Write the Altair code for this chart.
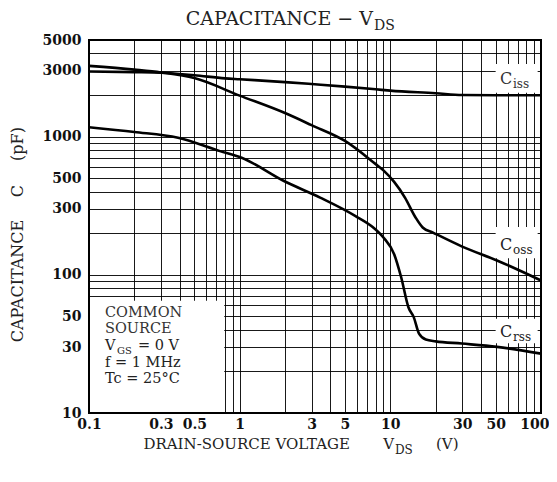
import altair as alt
import pandas as pd

# ---- data ----
ciss_v = [0.1, 0.2, 0.3, 0.5, 0.8, 1, 2, 3, 5, 8, 10, 20, 30, 50, 100]
ciss_c = [2960, 2930, 2900, 2780, 2640, 2600, 2480, 2400, 2300, 2200, 2150, 2060, 2000, 1990, 1990]

coss_v = [0.1, 0.2, 0.3, 0.5, 1, 2, 3, 5, 8, 9, 10.6, 12.5, 14.7, 16.4, 19.2, 30, 51, 100]
coss_c = [3250, 3050, 2910, 2650, 1980, 1480, 1210, 930, 632, 570, 470, 362, 260, 220, 202, 160, 127, 91]

crss_v = [0.1, 0.2, 0.39, 0.74, 1.03, 1.97, 3.42, 5.84, 7.7, 9.0, 10.6, 11.8, 13.2, 14.3, 15.5, 17.2, 20, 29.8, 51, 100]
crss_c = [1170, 1080, 980, 785, 703, 477, 362, 267, 220, 186, 141, 96, 58, 49.4, 37.5, 34, 33, 31.8, 30.1, 26.9]

x_grid = [0.1, 0.2, 0.3, 0.4, 0.5, 0.6, 0.7, 0.8, 0.9,
          1, 2, 3, 4, 5, 6, 7, 8, 9,
          10, 20, 30, 40, 50, 60, 70, 80, 90, 100]
y_grid = [10, 20, 30, 40, 50, 60, 70, 80, 90,
          100, 200, 300, 400, 500, 600, 700, 800, 900,
          1000, 2000, 3000, 4000, 5000]
x_labels = [0.1, 0.3, 0.5, 1, 3, 5, 10, 30, 50, 100]
y_labels = [10, 30, 50, 100, 300, 500, 1000, 3000, 5000]

# white boxes behind the annotations (data coordinates)
box_x1 = [0.1, 50, 50, 50]
box_x2 = [0.79, 95, 95, 95]
box_y1 = [10, 2080, 132, 32]
box_y2 = [65, 3350, 222, 48]

curves = pd.concat([
    pd.DataFrame({"v": ciss_v, "c": ciss_c, "s": "Ciss"}),
    pd.DataFrame({"v": coss_v, "c": coss_c, "s": "Coss"}),
    pd.DataFrame({"v": crss_v, "c": crss_c, "s": "Crss"}),
], ignore_index=True)
boxes = pd.DataFrame({"x1": box_x1, "x2": box_x2, "y1": box_y1, "y2": box_y2})

SERIF = "DejaVu Serif"
W, H = 452, 373

xscale = alt.Scale(type="log", domain=[0.1, 100], nice=False)
yscale = alt.Scale(type="log", domain=[10, 5000], nice=False)

last_x = "datum.value === " + str(x_grid[-1])
xaxis = alt.Axis(
    values=x_grid, title=None, grid=True, gridColor="#000", gridWidth=1, gridOpacity=0.9,
    ticks=False, domain=False, labelFont=SERIF, labelFontWeight="bold", labelFontSize=14,
    labelColor="#111", labelPadding=4, labelFlush=False, labelOverlap=False,
    labelAlign={"condition": {"test": last_x, "value": "right"}, "value": "center"},
    labelOffset={"condition": {"test": last_x, "value": 8}, "value": 0},
    labelExpr="indexof(" + str(x_labels) + ", datum.value) >= 0 ? datum.value + '' : ''",
)
yaxis = alt.Axis(
    values=y_grid, title=None, grid=True, gridColor="#000", gridWidth=1, gridOpacity=0.9,
    ticks=False, domain=False, labelFont=SERIF, labelFontWeight="bold", labelFontSize=14,
    labelColor="#111", labelPadding=8, labelOverlap=False,
    labelExpr="indexof(" + str(y_labels) + ", datum.value) >= 0 ? datum.value + '' : ''",
)

box_layer = alt.Chart(boxes).mark_rect(color="white").encode(
    x=alt.X("x1:Q", scale=xscale, axis=xaxis),
    x2="x2",
    y=alt.Y("y1:Q", scale=yscale, axis=yaxis),
    y2="y2",
)

line_layer = alt.Chart(curves).mark_line(
    interpolate="monotone", color="black", strokeWidth=2.6
).encode(
    x=alt.X("v:Q", scale=xscale, axis=xaxis),
    y=alt.Y("c:Q", scale=yscale, axis=yaxis),
    detail="s:N",
)

one = pd.DataFrame({"k": [0]})


def txt(s, x, y, size=15, align="left", baseline="alphabetic", angle=0, color="#222", weight="normal"):
    kw = dict(text=s, font=SERIF, fontSize=size, align=align, baseline=baseline,
              color=color, fontWeight=weight)
    if angle:
        kw["angle"] = angle
    return alt.Chart(one).mark_text(**kw).encode(x=alt.value(x), y=alt.value(y))


texts = [
    # title
    txt("CAPACITANCE  \u2212  V", 284, -15, size=19, align="right"),
    txt("DS", 285, -10, size=14),
    # x-axis title
    txt("DRAIN-SOURCE VOLTAGE", 261, 409, size=15, align="right"),
    txt("V", 305, 409, size=15, align="right"),
    txt("DS", 306, 414, size=12),
    txt("(V)", 347, 409, size=15),
    # y-axis title
    txt("CAPACITANCE", -71, 241, size=16, align="center", baseline="middle", angle=270),
    txt("C", -71, 151, size=16, align="center", baseline="middle", angle=270),
    txt("(pF)", -71, 104, size=16, align="center", baseline="middle", angle=270),
    # condition box
    txt("COMMON", 16, 277, size=14.5, color="#333"),
    txt("SOURCE", 16, 293, size=14.5, color="#333"),
    txt("V", 16, 310, size=14.5),
    txt("GS", 28, 313.5, size=10),
    txt("= 0 V", 49, 310, size=14.5),
    txt("f = 1 MHz", 16, 326.5, size=14.5),
    txt("Tc = 25\u00b0C", 16, 343, size=14.5),
    # curve labels
    txt("C", 411, 44, size=16, color="#333"),
    txt("iss", 424, 48, size=12, color="#333"),
    txt("C", 411, 210, size=16),
    txt("oss", 424, 214, size=12),
    txt("C", 411, 297, size=16),
    txt("rss", 424, 301, size=12),
]

border = alt.Chart(one).mark_rect(filled=False, stroke="black", strokeWidth=2).encode(
    x=alt.value(0), x2=alt.value(W), y=alt.value(0), y2=alt.value(H)
)

chart = alt.layer(box_layer, line_layer, *texts, border).properties(
    width=W, height=H,
    autosize=alt.AutoSizeParams(type="none"),
    padding={"left": 81, "top": 32, "right": 8, "bottom": 61},
    background="white",
).configure_view(stroke=None)

chart.save("out.html", embed_options={"renderer": "svg", "actions": False})
